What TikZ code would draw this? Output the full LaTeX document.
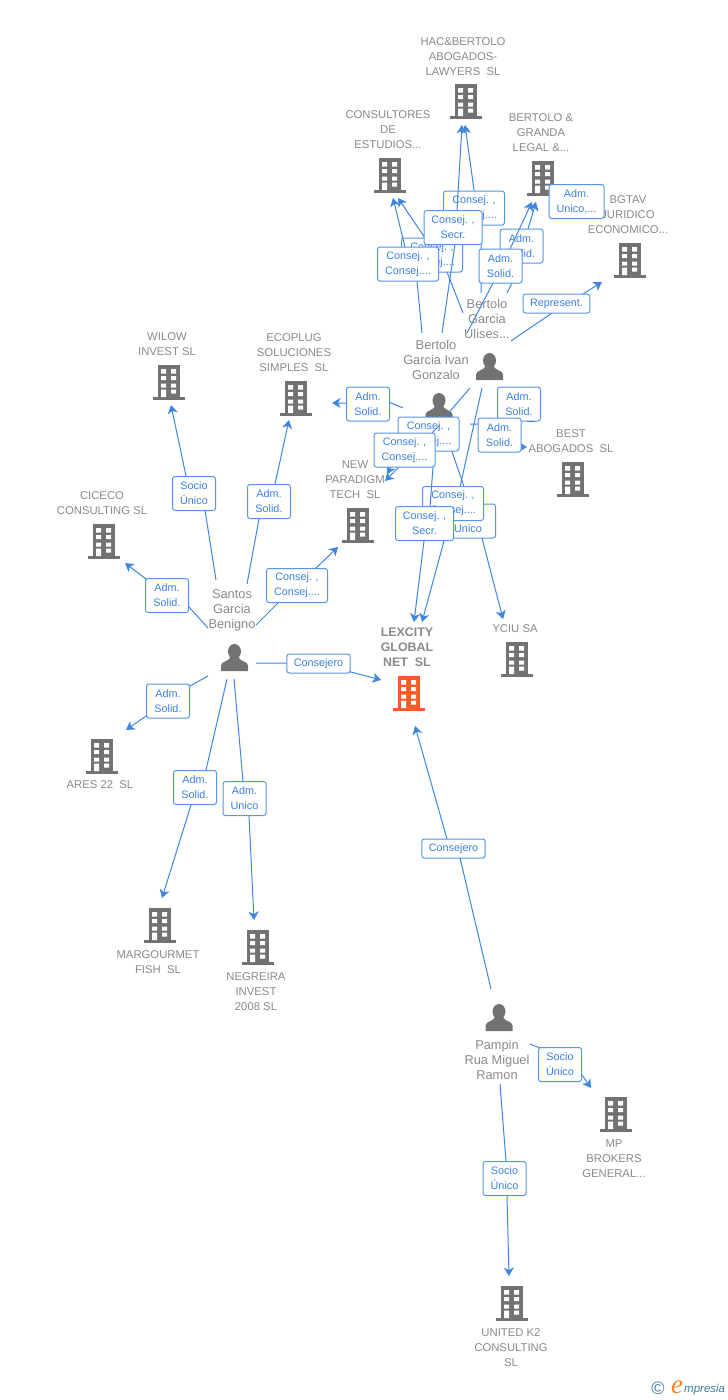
\documentclass[tikz,border=0pt]{standalone}
\usepackage{fontspec}
\setmainfont{Liberation Sans}
\newfontfamily\logoserif{Liberation Serif}
\usetikzlibrary{arrows.meta}
\frenchspacing
\definecolor{edgeblue}{HTML}{3F86E0}
\definecolor{boxblue}{HTML}{5596E6}
\definecolor{txtblue}{HTML}{3C80DC}
\definecolor{icongrey}{HTML}{727272}
\definecolor{txtgrey}{HTML}{8A8A8A}
\definecolor{lexorange}{HTML}{FF5A26}
\definecolor{logoteal}{HTML}{3F7F9C}
\definecolor{logoorange}{HTML}{F0862A}
\tikzset{
  edge/.style={edgeblue,line width=1pt,line join=round},
  arrowedge/.style={edge,-{Stealth[length=8.5pt,width=10pt,inset=2.5pt]}},
  boxbase/.style={draw=boxblue,line width=1pt,rounded corners=2.5pt,fill=white,text=txtblue,
    font=\fontsize{10.8}{15}\selectfont,align=center,inner sep=0pt,minimum height=34pt},
  admbox/.style={boxbase,text width=43pt,minimum width=43pt},
  consbox/.style={boxbase,text width=61pt,minimum width=61pt},
  secbox/.style={boxbase,text width=58pt,minimum width=58pt},
  unibox/.style={boxbase,text width=55pt,minimum width=55pt},
  onebox/.style={boxbase,minimum height=19pt,inner xsep=7pt},
  co/.style={text=txtgrey,font=\fontsize{11.3}{15}\selectfont,align=center,inner sep=0pt},
  cobold/.style={co,font=\fontsize{12.4}{15}\selectfont\bfseries},
  pe/.style={text=txtgrey,font=\fontsize{12.8}{15}\selectfont,align=center,inner sep=0pt},
}
% name, sx,sy  ax,ay  bx,by  ex,ey  style  lx,ly  text
\newcommand{\conn}[8]{%
  \coordinate (#1-s) at (#2);
  \coordinate (#1-a) at (#3);
  \coordinate (#1-b) at (#4);
  \coordinate (#1-e) at (#5);
  \draw[arrowedge] (#1-s) -- (#1-a) -- (#1-b) -- (#1-e);
  \node[#6] (#1) at (#7) {#8};
}
\newcommand{\bldg}[4]{%
  \coordinate (#1) at (#2,#3);
  \begin{scope}[shift={(#1)}]
    \fill[#4] (-11,0) rectangle (11,32);
    \fill[#4] (-16,32) rectangle (16,34.5);
    \fill[white] (-8,4) rectangle (-3,8.5) (2,4) rectangle (7,8.5)
      (-8,11) rectangle (-3,15) (2,11) rectangle (7,15)
      (-8,18.5) rectangle (-3,22.5) (2,18.5) rectangle (7,22.5)
      (-8,24.5) rectangle (-3,32) (2,24.5) rectangle (7,28.5);
  \end{scope}
}
\newcommand{\person}[3]{%
  \coordinate (#1) at (#2,#3);
  \begin{scope}[shift={(#1)}]
    \fill[icongrey] (0,7.5) ellipse (6.5 and 7.5);
    \fill[icongrey] (-13.5,27) -- (-13.5,21.5) .. controls (-13.5,17) and (-5,18) .. (-3.5,12)
      -- (3.5,12) .. controls (5,18) and (13.5,17) .. (13.5,21.5) -- (13.5,27) -- cycle;
  \end{scope}
}
\begin{document}
\begin{tikzpicture}[x=1pt,y=-1pt]
\useasboundingbox (0,0) rectangle (728,1400);
\fill[white] (0,0) rectangle (728,1400);
% company and person labels
\node[co] (thac) at (463,56.7) {HAC\&BERTOLO\\ABOGADOS-\\LAWYERS\ \ SL};
\node[co] (tcon) at (388,129.7) {CONSULTORES\\DE\\ESTUDIOS...};
\node[co] (tbgl) at (541,132.7) {BERTOLO \&\\GRANDA\\LEGAL \&...};
\node[co] (tbgt) at (628,214.7) {BGTAV\\JURIDICO\\ECONOMICO...};
\node[pe] (tuli) at (487,319) {Bertolo\\Garcia\\Ulises...};
\node[pe] (tiva) at (436,359.5) {Bertolo\\Garcia Ivan\\Gonzalo};
\node[co] (twil) at (167,344.2) {WILOW\\INVEST SL};
\node[co] (teco) at (294,352.7) {ECOPLUG\\SOLUCIONES\\SIMPLES\ \ SL};
\node[co] (tcic) at (102,503.2) {CICECO\\CONSULTING SL};
\node[co] (tnew) at (355,479.7) {NEW\\PARADIGM\\TECH\ \ SL};
\node[co] (tbes) at (571,441.2) {BEST\\ABOGADOS\ \ SL};
\node[co] (tyci) at (515,628.7) {YCIU SA};
\node[cobold] (tlex) at (407,647) {LEXCITY\\GLOBAL\\NET\ \ SL};
\node[pe] (tsan) at (232,610.3) {Santos\\Garcia\\Benigno};
\node[co] (tare) at (100,784.7) {ARES 22\ \ SL};
\node[co] (tmar) at (158,962.2) {MARGOURMET\\FISH\ \ SL};
\node[co] (tneg) at (256,991.7) {NEGREIRA\\INVEST\\2008 SL};
\node[pe] (tpam) at (497,1060.3) {Pampin\\Rua Miguel\\Ramon};
\node[co] (tmpb) at (614,1158.7) {MP\\BROKERS\\GENERAL...};
\node[co] (tuni) at (511,1347.7) {UNITED K2\\CONSULTING\\SL};
% buildings
\bldg{bhac}{466}{84}{icongrey}
\bldg{bcon}{390}{158}{icongrey}
\bldg{bbgl}{543}{161}{icongrey}
\bldg{bbgt}{630}{243}{icongrey}
\bldg{bwil}{169}{365}{icongrey}
\bldg{beco}{296}{381}{icongrey}
\bldg{bcic}{104}{524}{icongrey}
\bldg{bnew}{358}{508}{icongrey}
\bldg{bbes}{573}{462}{icongrey}
\bldg{byci}{517}{642}{icongrey}
\bldg{blex}{409}{676}{lexorange}
\bldg{bare}{102}{739}{icongrey}
\bldg{bmar}{160}{908}{icongrey}
\bldg{bneg}{258}{930}{icongrey}
\bldg{bmpb}{616}{1097}{icongrey}
\bldg{buni}{512}{1286}{icongrey}
% persons
\person{puli}{489.5}{353}
\person{piva}{439}{393}
\person{psan}{234.5}{644}
\person{ppam}{499}{1004}
% Santos
\conn{e1}{216,580}{205,510}{186,476}{171,405}{admbox}{194,493.5}{Socio\\Único}
\conn{e2}{247,584}{259,519}{275,484}{289,420}{admbox}{269,501.5}{Adm.\\Solid.}
\conn{e3}{208,628}{189,607}{146,579}{125,563}{admbox}{167,595.5}{Adm.\\Solid.}
\conn{e4}{256,625}{278,603}{316,568}{338,547}{consbox}{297,585.5}{Consej. ,\\Consej....}
\conn{e5}{256,663}{286,663}{351,672}{381,680}{onebox}{318.5,663.5}{Consejero}
\conn{e6}{208,676}{190,686}{146,716}{126,730}{admbox}{168,701}{Adm.\\Solid.}
\conn{e7}{227,679}{206,770}{191,805}{162,898}{admbox}{195,787.5}{Adm.\\Solid.}
\conn{e8}{234,679}{243,781}{249,816}{254,920}{admbox}{244.5,798.5}{Adm.\\Unico}
% Pampin
\conn{e9}{491,989}{460,858}{447,839}{415,726}{onebox}{453.5,848.5}{Consejero}
\conn{e10}{530,1044}{540,1048}{582,1075}{591,1088}{admbox}{560,1064.5}{Socio\\Único}
\conn{e11}{500,1084}{506,1161}{507,1196}{509,1276}{admbox}{504.5,1178.5}{Socio\\Único}
% upper group
\conn{e12}{481,293}{481,225}{474,190}{465,125}{consbox}{474,208}{Consej. ,\\Consej....}
\conn{e13}{463,313}{447,272}{423,235}{398,198}{consbox}{432,255}{Consej. ,\\Consej....}
\conn{e14}{422,333}{417,281}{405,247}{393,198}{consbox}{408,264}{Consej. ,\\Consej....}
\conn{e15}{442,333}{455,244}{457,210}{462,125}{secbox}{453,227.5}{Consej. ,\\Secr.}
\conn{e16}{507,293}{512,283}{528,229}{536,202}{admbox}{521.5,246}{Adm.\\Solid.}
\conn{e17}{467,333}{493,283}{510,249}{532,202}{admbox}{500.5,266}{Adm.\\Solid.}
\node[admbox,text width=55pt,minimum width=55pt] (e18) at (576.5,201.5) {Adm.\\Unico,...};
\conn{e19}{511,341}{552,313}{583,294}{602,282}{onebox}{556.5,303.5}{Represent.}
% lower group
\conn{e20}{403,408}{389,402}{346,403}{332,403}{admbox}{368,404}{Adm.\\Solid.}
\node[admbox] (e21) at (519,404) {Adm.\\Solid.};
\coordinate (e21-a) at (527,421);
\coordinate (e21-b) at (535,421);
\draw[edge] (e21-a) -- (e21-b);
\conn{e22}{470,424}{478,424}{521,447}{527,447}{admbox}{499.5,435}{Adm.\\Solid.}
\conn{e23}{448,440}{470,504}{482,538}{503,619}{unibox}{468,521}{Adm.\\Unico}
\conn{e24}{470,388}{445,417}{392,465}{387,474}{consbox}{428.5,434}{Consej. ,\\Consej....}
\conn{e25}{440,425}{420,445}{399,467}{385,481}{consbox}{404.5,450}{Consej. ,\\Consej....}
\conn{e26}{482,388}{460,487}{444,541}{422,622}{consbox}{453,503.5}{Consej. ,\\Consej....}
\conn{e27}{433,467}{430,507}{424,541}{414,622}{secbox}{424.5,523.5}{Consej. ,\\Secr.}
% logo
\node[inner sep=0pt,text=logoteal,font=\fontsize{18}{18}\selectfont] (logoc) at (658,1388.5) {©};
\node[inner sep=0pt,anchor=base west,text=logoorange,font=\logoserif\fontsize{27}{27}\selectfont\itshape] (logoe) at (671,1393) {e};
\node[inner sep=0pt,anchor=base west,text=logoteal,font=\fontsize{11.5}{12}\selectfont\itshape] (logot) at (684,1392) {mpresia};
\end{tikzpicture}
\end{document}
